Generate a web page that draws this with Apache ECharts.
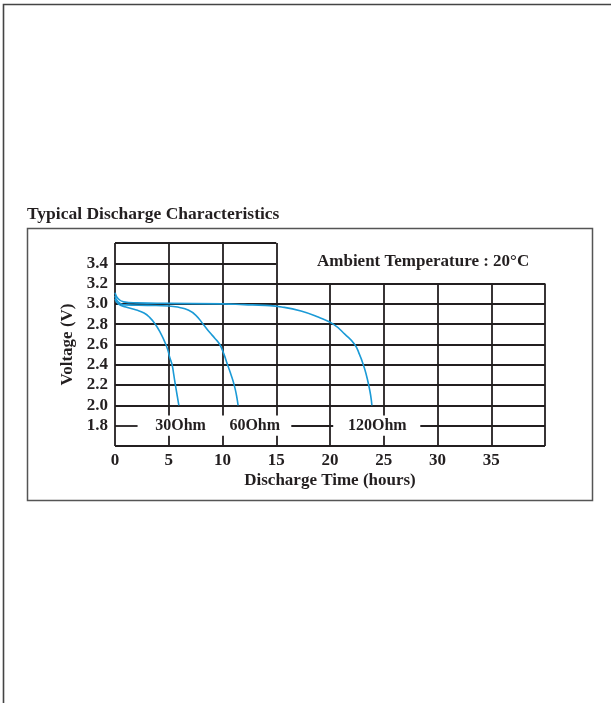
<!DOCTYPE html>
<html>
<head>
<meta charset="utf-8">
<script src="https://cdn.jsdelivr.net/npm/echarts@6/dist/echarts.min.js"></script>
<style>html,body{margin:0;padding:0;background:#fff}#c{width:611px;height:703px}</style>
</head>
<body>
<div id="c"></div>
<script>
// ---- data ----
const yTickLabels = ['1.8','2.0','2.2','2.4','2.6','2.8','3.0','3.2','3.4'];
const xTickLabels = ['0','5','10','15','20','25','30','35'];
const curve30 = [[0,3.05],[0.3,3.0],[1,2.97],[2,2.94],[2.7,2.91],[3.2,2.87],[3.75,2.8],[4.3,2.7],[4.65,2.62],[4.9,2.55],[5.1,2.47],[5.31,2.4],[5.47,2.3],[5.62,2.2],[5.78,2.1],[5.94,2.0]];
const curve60 = [[0,3.08],[0.3,3.02],[1,2.99],[3,2.985],[5,2.98],[6,2.965],[6.8,2.94],[7.5,2.89],[8.2,2.8],[8.8,2.72],[9.3,2.66],[9.75,2.6],[10.15,2.5],[10.47,2.4],[10.8,2.3],[11.09,2.2],[11.3,2.1],[11.45,2.0]];
const curve120 = [[0,3.11],[0.3,3.05],[0.8,3.02],[2,3.01],[5,3.005],[10,3.0],[12,2.993],[14,2.985],[15.5,2.97],[17.3,2.93],[18.9,2.87],[20.3,2.8],[21.4,2.7],[22.3,2.6],[22.75,2.5],[23.1,2.4],[23.38,2.3],[23.6,2.2],[23.78,2.1],[23.9,2.0]];
const curveLabels = [{name:'30Ohm', x:6.1, y:1.8},{name:'60Ohm', x:13.0, y:1.8},{name:'120Ohm', x:24.4, y:1.8}];
// grid segments (data coordinates)
const hLines = [[1.6,0,40],[2.0,0,40],[2.2,0,40],[2.4,0,40],[2.6,0,40],[2.8,0,40],[3.0,0,40],[3.2,0,40],[3.4,0,15],[3.6,0,15],
                [1.8,0,2.1],[1.8,16.4,20.3],[1.8,28.4,40]];
const vLines = [[0,1.6,3.6],[5,1.6,1.7],[5,1.9,3.6],[10,1.6,1.7],[10,1.9,3.6],[15,1.6,1.7],[15,1.9,3.6],
                [20,1.6,3.2],[25,1.6,1.7],[25,1.9,3.2],[30,1.6,3.2],[35,1.6,3.2],[40,1.6,3.2]];

const FONT = "'Liberation Serif','Times New Roman',serif";
const INK = '#231f20';
const gridSegs = hLines.map(h => ({coords:[[h[1],h[0]],[h[2],h[0]]]}))
  .concat(vLines.map(v => ({coords:[[v[0],v[1]],[v[0],v[2]]]})));

const chart = echarts.init(document.getElementById('c'), null, {renderer:'canvas'});
const curveStyle = {color:'#1b9ad6', width:1.6};
const curveSeries = d => ({type:'line', data:d, showSymbol:false, smooth:0.5, smoothConstraint:false, lineStyle:curveStyle, z:3});
chart.setOption({
  animation:false,
  title:[
    {text:'Typical Discharge Characteristics', left:27, top:205, padding:0,
     textStyle:{fontFamily:FONT, fontWeight:'bold', fontSize:17.5, color:INK}},
    {text:'Ambient Temperature : 20°C', left:317, top:253, padding:0,
     textStyle:{fontFamily:FONT, fontWeight:'bold', fontSize:17, color:INK}}
  ],
  graphic:[
    {type:'polyline', shape:{points:[[3.5,703],[3.5,4.5],[611,4.5]]}, style:{stroke:'#444', lineWidth:1.6, fill:null}},
    {type:'rect', shape:{x:27.5, y:228.5, width:565, height:272}, style:{stroke:'#555', lineWidth:1.5, fill:null}}
  ],
  grid:{left:115, right:66, top:243, bottom:257},
  xAxis:{type:'value', min:0, max:40, interval:5,
    axisLine:{show:false}, axisTick:{show:false}, splitLine:{show:false},
    axisLabel:{margin:6, fontFamily:FONT, fontWeight:'bold', fontSize:17, color:INK,
      formatter:v => xTickLabels.includes(String(v)) ? String(v) : ''},
    name:'Discharge Time (hours)', nameLocation:'middle', nameGap:26,
    nameTextStyle:{fontFamily:FONT, fontWeight:'bold', fontSize:17, color:INK}},
  yAxis:{type:'value', min:1.6, max:3.6, interval:0.2,
    axisLine:{show:false}, axisTick:{show:false}, splitLine:{show:false},
    axisLabel:{margin:7, fontFamily:FONT, fontWeight:'bold', fontSize:17, color:INK,
      formatter:v => { const s = Number(v).toFixed(1); return yTickLabels.includes(s) ? s : ''; }},
    name:'Voltage (V)', nameLocation:'middle', nameGap:38,
    nameTextStyle:{fontFamily:FONT, fontWeight:'bold', fontSize:17, color:INK}},
  series:[
    {type:'lines', coordinateSystem:'cartesian2d', polyline:false, silent:true, z:1,
     lineStyle:{color:INK, width:1.8, opacity:1}, data:gridSegs},
    curveSeries(curve30), curveSeries(curve60), curveSeries(curve120),
    {type:'scatter', symbolSize:1, z:4, silent:true, itemStyle:{color:'#fff', opacity:1},
     data:curveLabels.map(l => ({name:l.name, value:[l.x, l.y]})),
     label:{show:true, position:'inside', formatter:p => p.name, textBorderWidth:0, textBorderColor:'transparent', opacity:1,
       fontFamily:FONT, fontWeight:'bold', fontSize:16, color:INK}}
  ]
});
</script>
</body>
</html>
